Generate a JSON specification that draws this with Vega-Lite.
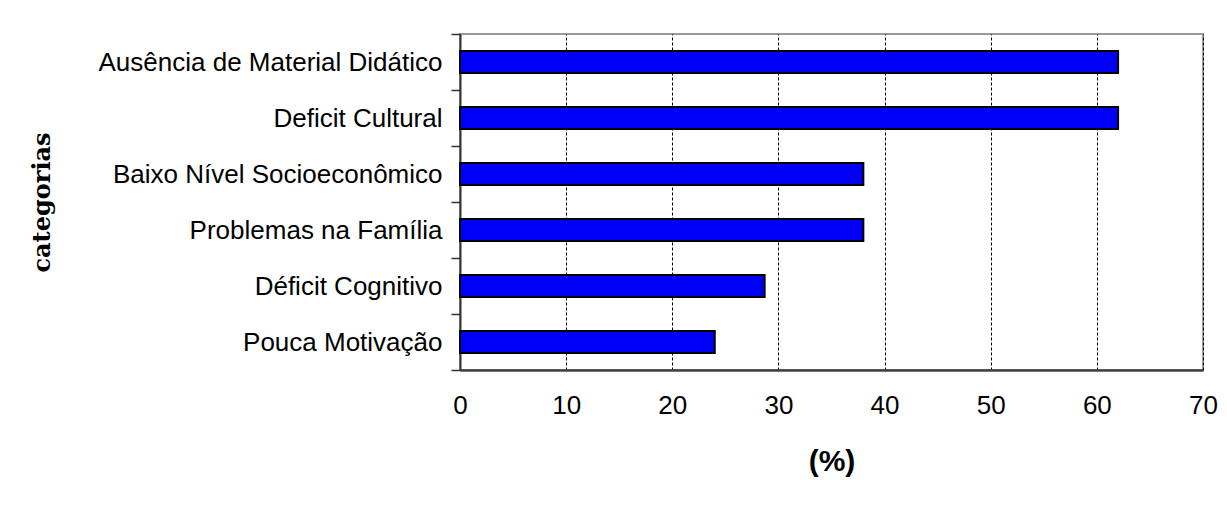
{
  "$schema": "https://vega.github.io/schema/vega-lite/v6.json",
  "width": 743,
  "height": 336,
  "autosize": "none",
  "padding": {"left": 460, "top": 34, "right": 24, "bottom": 135},
  "background": "white",
  "config": {
    "view": {"stroke": "#999999", "strokeWidth": 2},
    "font": "Liberation Sans"
  },
  "data": {
    "values": [
      {"categoria": "Ausência de Material Didático", "pct": 62},
      {"categoria": "Deficit Cultural", "pct": 62},
      {"categoria": "Baixo Nível Socioeconômico", "pct": 38},
      {"categoria": "Problemas na Família", "pct": 38},
      {"categoria": "Déficit Cognitivo", "pct": 28.7},
      {"categoria": "Pouca Motivação", "pct": 24}
    ]
  },
  "mark": {"type": "bar", "color": "#0000F5", "stroke": "#000000", "strokeWidth": 2, "height": {"band": 0.39}},
  "encoding": {
    "y": {
      "field": "categoria",
      "type": "nominal",
      "sort": null,
      "scale": {"paddingInner": 0, "paddingOuter": 0},
      "axis": {
        "title": "categorias",
        "titleFont": "DejaVu Serif",
        "titleFontWeight": "bold",
        "titleFontSize": 24,
        "titleColor": "#000000",
        "titleX": -418,
        "titleBaseline": "middle",
        "labelFontSize": 26,
        "labelColor": "#000000",
        "labelPadding": 9,
        "tickBand": "extent",
        "tickSize": 9,
        "tickColor": "#333333",
        "tickWidth": 1.5,
        "domainColor": "#333333",
        "domainWidth": 2,
        "grid": false,
        "labelLimit": 500
      }
    },
    "x": {
      "field": "pct",
      "type": "quantitative",
      "scale": {"domain": [0, 70], "nice": false},
      "axis": {
        "title": "(%)",
        "titleFontSize": 30,
        "titleFontWeight": "bold",
        "titleColor": "#000000",
        "titleY": 76,
        "titleBaseline": "top",
        "values": [0, 10, 20, 30, 40, 50, 60, 70],
        "labelFontSize": 26,
        "labelColor": "#000000",
        "labelPadding": 22,
        "tickSize": 0,
        "domainColor": "#404040",
        "domainWidth": 2.5,
        "grid": true,
        "gridColor": "#000000",
        "gridDash": [3, 2],
        "gridWidth": 1,
        "labelFlush": false
      }
    }
  }
}
